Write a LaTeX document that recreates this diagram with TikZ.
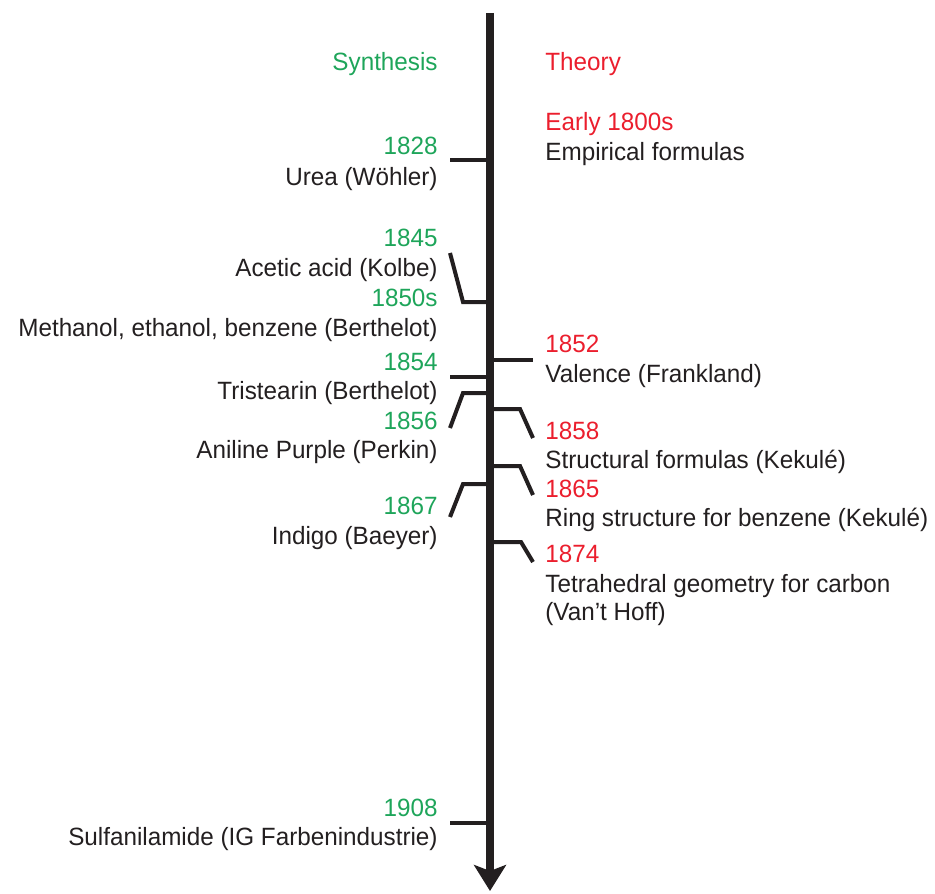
\documentclass[tikz,border=0pt]{standalone}
\usepackage{fontspec}
\setmainfont[FakeStretch=0.97]{Liberation Sans}
\usetikzlibrary{arrows.meta, positioning}
\definecolor{synth}{RGB}{30,165,90}
\definecolor{theory}{RGB}{235,30,45}
\definecolor{ink}{RGB}{35,31,32}
\tikzstyle{lyear} = [anchor=base east, inner sep=0pt, text=synth]
\tikzstyle{ltext} = [anchor=base east, inner sep=0pt, text=ink]
\tikzstyle{ryear} = [anchor=base west, inner sep=0pt, text=theory]
\tikzstyle{rtext} = [anchor=base west, inner sep=0pt, text=ink]
\tikzstyle{tick} = [draw=ink, line width=2pt]
\tikzstyle{axis} = [draw=ink, line width=3.6pt, -{Stealth[length=13pt,width=16pt,inset=3pt]}]

\begin{document}
\begin{tikzpicture}[x=0.5pt, y=-0.5pt, font=\fontsize{12.5}{15}\selectfont]
  \useasboundingbox (0,0) rectangle (935,893);

  % headings
  \node[lyear] (synthesis) at (438,71) {Synthesis};
  \node[ryear] (theory) at (545,71) {Theory};

  % synthesis side
  \node[lyear] (y1828) at (438,155) {1828};
  \node[ltext] (d1828) at (438,185) {Urea (Wöhler)};
  \node[lyear] (y1845) at (438,246) {1845};
  \node[ltext] (d1845) at (438,276) {Acetic acid (Kolbe)};
  \node[lyear] (y1850) at (438,306) {1850s};
  \node[ltext] (d1850) at (438,336) {Methanol, ethanol, benzene (Berthelot)};
  \node[lyear] (y1854) at (438,370) {1854};
  \node[ltext] (d1854) at (438,399) {Tristearin (Berthelot)};
  \node[lyear] (y1856) at (438,429) {1856};
  \node[ltext] (d1856) at (438,458) {Aniline Purple (Perkin)};
  \node[lyear] (y1867) at (438,514) {1867};
  \node[ltext] (d1867) at (438,544) {Indigo (Baeyer)};
  \node[lyear] (y1908) at (438,816) {1908};
  \node[ltext] (d1908) at (438,845) {Sulfanilamide (IG Farbenindustrie)};

  % theory side
  \node[ryear] (y1800) at (545,131) {Early 1800s};
  \node[rtext] (d1800) at (545,161) {Empirical formulas};
  \node[ryear] (y1852) at (545,352) {1852};
  \node[rtext] (d1852) at (545,382) {Valence (Frankland)};
  \node[ryear] (y1858) at (545,439) {1858};
  \node[rtext] (d1858) at (545,468) {Structural formulas (Kekulé)};
  \node[ryear] (y1865) at (545,497) {1865};
  \node[rtext] (d1865) at (545,526) {Ring structure for benzene (Kekulé)};
  \node[ryear] (y1874) at (545,562) {1874};
  \node[rtext] (d1874) at (545,592) {Tetrahedral geometry for carbon};
  \node[rtext] (d1874b) at (545,620) {(Van’t Hoff)};

  % axis
  \coordinate (top) at (490,13);
  \coordinate (bottom) at (490,891);
  \draw[axis] (top) -- (bottom);

  % points on the axis
  \coordinate (a1828) at (490,160);
  \coordinate (a1845) at (490,302);
  \coordinate (a1852) at (490,360);
  \coordinate (a1854) at (490,377);
  \coordinate (a1856) at (490,393);
  \coordinate (a1858) at (490,409);
  \coordinate (a1865) at (490,466);
  \coordinate (a1867) at (490,484);
  \coordinate (a1874) at (490,542);
  \coordinate (a1908) at (490,823);

  % tick ends and bends
  \coordinate (e1828) at (450,160);
  \coordinate (e1845) at (450,253);
  \coordinate (b1845) at (463,302);
  \coordinate (e1852) at (533,360);
  \coordinate (e1854) at (450,377);
  \coordinate (e1856) at (450,428);
  \coordinate (b1856) at (463,393);
  \coordinate (b1858) at (520,409);
  \coordinate (e1858) at (533,438);
  \coordinate (b1865) at (520,466);
  \coordinate (e1865) at (533,495);
  \coordinate (e1867) at (450,517);
  \coordinate (b1867) at (463,484);
  \coordinate (b1874) at (521,542);
  \coordinate (e1874) at (533,562);
  \coordinate (e1908) at (450,823);

  \draw[tick] (e1828) -- (a1828);
  \draw[tick] (e1845) -- (b1845) -- (a1845);
  \draw[tick] (a1852) -- (e1852);
  \draw[tick] (e1854) -- (a1854);
  \draw[tick] (e1856) -- (b1856) -- (a1856);
  \draw[tick] (a1858) -- (b1858) -- (e1858);
  \draw[tick] (a1865) -- (b1865) -- (e1865);
  \draw[tick] (e1867) -- (b1867) -- (a1867);
  \draw[tick] (a1874) -- (b1874) -- (e1874);
  \draw[tick] (e1908) -- (a1908);

\end{tikzpicture}
\end{document}
